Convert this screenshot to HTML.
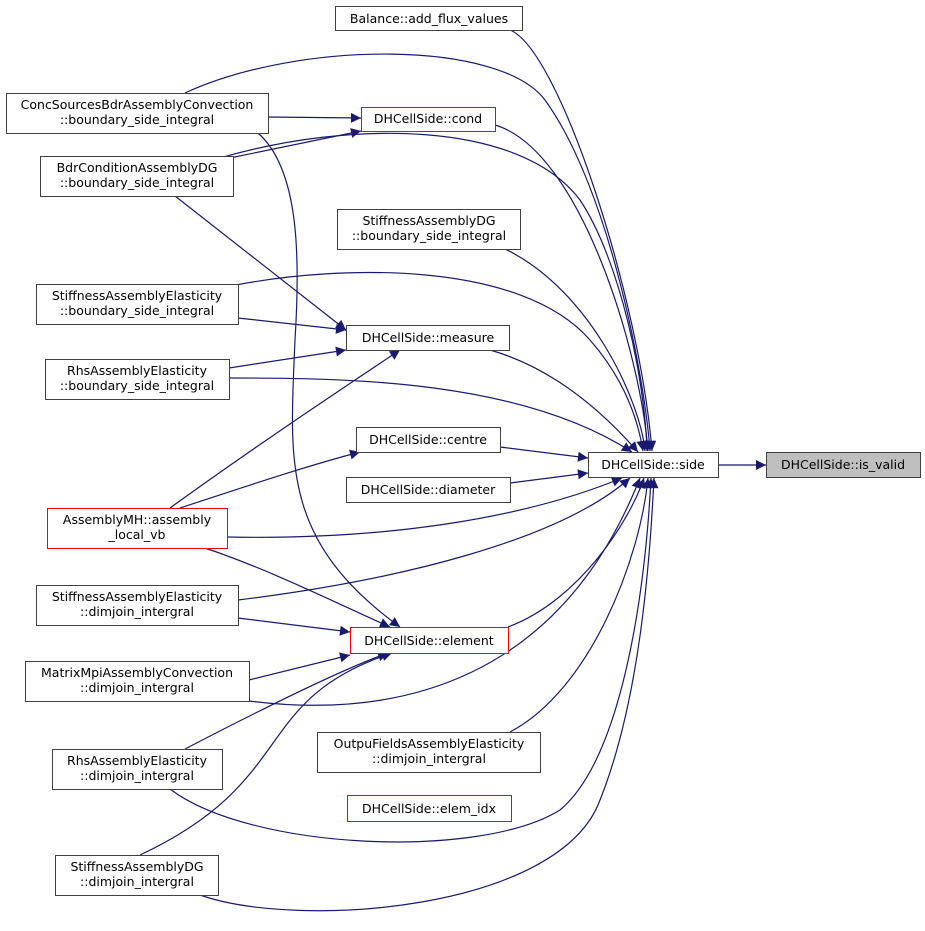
<!DOCTYPE html>
<html><head><meta charset="utf-8"><style>
html,body{margin:0;padding:0;background:#fff;}
svg{display:block;}
text{font-family:"DejaVu Sans","Liberation Sans",sans-serif;font-size:12.5px;fill:#000;}
</style></head><body>
<svg width="925" height="931" viewBox="0 0 925 931" xmlns="http://www.w3.org/2000/svg">
<defs>
<marker id="a" viewBox="0 0 10 10" refX="10" refY="5" markerWidth="12" markerHeight="10" markerUnits="userSpaceOnUse" orient="auto">
<path d="M0,0 L10,5 L0,10 z" fill="#191970"/></marker>
</defs>
<g fill="none" stroke="#191970" stroke-width="1.2" marker-end="url(#a)">
<path d="M510,30 C560,50 640,300 652,451"/>
<path d="M185,93 C300,40 500,40 545,100 C610,190 645,380 650,451"/>
<path d="M495,125 C580,150 640,350 648,451"/>
<path d="M220,158 C350,120 520,120 580,200 C620,260 645,380 647,451"/>
<path d="M505,249 C590,290 640,400 645,451"/>
<path d="M236,285 C340,265 520,260 590,340 C625,380 638,420 643,451"/>
<path d="M490,350 C560,370 610,420 638,452"/>
<path d="M229,378 C350,378 520,380 632,452"/>
<path d="M500,447 L588,458"/>
<path d="M510,483 L588,473"/>
<path d="M227,537 C380,540 520,520 622,478"/>
<path d="M238,600 C400,580 560,540 630,478"/>
<path d="M508,627 C580,600 630,520 644,478"/>
<path d="M249,701 C400,720 560,680 640,478"/>
<path d="M510,732 C590,690 640,560 648,478"/>
<path d="M170,789 C250,850 480,860 560,810 C620,760 645,600 651,478"/>
<path d="M200,895 C300,930 560,910 600,800 C640,700 650,560 654,478"/>
<path d="M718,465 L766,465"/>
<path d="M268,117 L361,118"/>
<path d="M220,160 L361,131"/>
<path d="M175,196 L346,330"/>
<path d="M238,318 L346,330"/>
<path d="M229,368 L346,350"/>
<path d="M170,508 C250,450 340,390 400,350"/>
<path d="M180,508 C250,485 310,465 360,452"/>
<path d="M258,133 C300,170 300,260 295,340 C290,460 280,540 400,627"/>
<path d="M205,548 C270,570 330,600 390,627"/>
<path d="M238,618 L350,632"/>
<path d="M249,680 L350,655"/>
<path d="M185,749 C260,710 340,670 388,653"/>
<path d="M140,855 C300,780 250,700 392,653"/>
</g>
<g stroke-width="1" fill="#fff">
<rect x="335.5" y="6.5" width="187" height="24" stroke="#404040"/>
<rect x="6.5" y="93.5" width="262" height="40" stroke="#404040"/>
<rect x="361.5" y="107.5" width="134" height="24" stroke="#ff0000"/>
<rect x="40.5" y="156.5" width="193" height="40" stroke="#404040"/>
<rect x="337.5" y="209.5" width="183" height="40" stroke="#404040"/>
<rect x="36.5" y="284.5" width="202" height="40" stroke="#404040"/>
<rect x="346.5" y="325.5" width="163" height="25" stroke="#404040"/>
<rect x="45.5" y="359.5" width="184" height="40" stroke="#404040"/>
<rect x="356.5" y="427.5" width="144" height="25" stroke="#404040"/>
<rect x="346.5" y="477.5" width="164" height="25" stroke="#404040"/>
<rect x="588.5" y="452.5" width="130" height="25" stroke="#404040"/>
<rect x="766.5" y="452.5" width="154" height="25" stroke="#404040" fill="#bfbfbf"/>
<rect x="47.5" y="508.5" width="180" height="40" stroke="#ff0000"/>
<rect x="36.5" y="585.5" width="202" height="40" stroke="#404040"/>
<rect x="350.5" y="627.5" width="158" height="26" stroke="#ff0000"/>
<rect x="25.5" y="661.5" width="224" height="40" stroke="#404040"/>
<rect x="317.5" y="732.5" width="223" height="40" stroke="#404040"/>
<rect x="347.5" y="795.5" width="164" height="26" stroke="#ff0000"/>
<rect x="52.5" y="749.5" width="170" height="40" stroke="#404040"/>
<rect x="55.5" y="855.5" width="163" height="40" stroke="#404040"/>
</g>
<g text-anchor="middle">
<text x="429" y="23">Balance::add_flux_values</text>
<text x="137" y="109">ConcSourcesBdrAssemblyConvection</text>
<text x="137" y="124">::boundary_side_integral</text>
<text x="428" y="123">DHCellSide::cond</text>
<text x="137" y="172">BdrConditionAssemblyDG</text>
<text x="137" y="187">::boundary_side_integral</text>
<text x="429" y="225">StiffnessAssemblyDG</text>
<text x="429" y="240">::boundary_side_integral</text>
<text x="137" y="300">StiffnessAssemblyElasticity</text>
<text x="137" y="315">::boundary_side_integral</text>
<text x="428" y="342">DHCellSide::measure</text>
<text x="137" y="375">RhsAssemblyElasticity</text>
<text x="137" y="390">::boundary_side_integral</text>
<text x="428" y="444">DHCellSide::centre</text>
<text x="428" y="494">DHCellSide::diameter</text>
<text x="653" y="469">DHCellSide::side</text>
<text x="843" y="469">DHCellSide::is_valid</text>
<text x="137" y="524">AssemblyMH::assembly</text>
<text x="137" y="539">_local_vb</text>
<text x="137" y="601">StiffnessAssemblyElasticity</text>
<text x="137" y="616">::dimjoin_intergral</text>
<text x="429" y="645">DHCellSide::element</text>
<text x="137" y="677">MatrixMpiAssemblyConvection</text>
<text x="137" y="692">::dimjoin_intergral</text>
<text x="429" y="748">OutpuFieldsAssemblyElasticity</text>
<text x="429" y="763">::dimjoin_intergral</text>
<text x="429" y="813">DHCellSide::elem_idx</text>
<text x="137" y="765">RhsAssemblyElasticity</text>
<text x="137" y="780">::dimjoin_intergral</text>
<text x="137" y="871">StiffnessAssemblyDG</text>
<text x="137" y="886">::dimjoin_intergral</text>
</g>
</svg>
</body></html>
